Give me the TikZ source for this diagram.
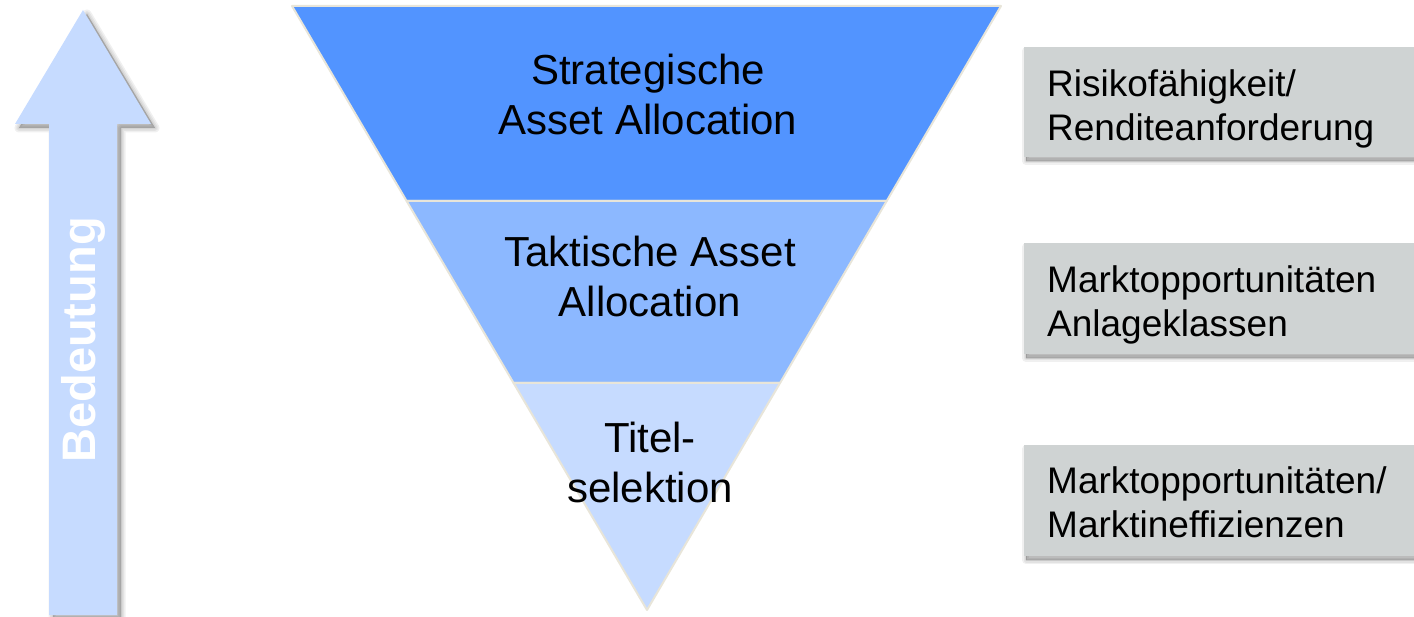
\documentclass[tikz,border=0pt]{standalone}
\usepackage{fontspec}
\setmainfont{Liberation Sans}
\usetikzlibrary{calc}
\definecolor{bandA}{RGB}{82,148,255}
\definecolor{bandB}{RGB}{140,184,255}
\definecolor{bandC}{RGB}{198,219,255}
\definecolor{edgecol}{RGB}{232,229,217}
\definecolor{boxgray}{RGB}{207,211,211}
\definecolor{arrowcol}{RGB}{198,219,255}
\tikzset{
  band/.style={draw=edgecol, line width=2pt, line join=round},
  bandtext/.style={font=\fontsize{42}{50}\selectfont, align=center, text=black, inner sep=0pt},
  sidebox/.style={fill=boxgray},
  sidetext/.style={font=\fontsize{37}{44}\selectfont, align=left, anchor=west, inner sep=0pt, text=black},
  softshadow/.style={fill=black, draw=black, opacity=0.06, line join=round},
}
\begin{document}
\begin{tikzpicture}[x=1pt,y=-1pt]
\useasboundingbox (0,0) rectangle (1414,617);
% ---------- arrow ----------
\coordinate (tip) at (83,10);
\foreach \w in {9,6,3,0.5}{
  \path[softshadow, line width=\w pt, shift={(4,4)}]
    (83,10) -- (151,124) -- (117,124) -- (117,615) -- (49,615) -- (49,124) -- (15,124) -- cycle;
}
\fill[arrowcol] (tip) -- (151,124) -- (117,124) -- (117,615) -- (49,615) -- (49,124) -- (15,124) -- cycle;
\node[rotate=90, text=white, font=\fontsize{47}{50}\selectfont\bfseries, inner sep=0pt] (bed) at (83,340) {Bedeutung};
% ---------- funnel ----------
\coordinate (TL) at (292,6);
\coordinate (TR) at (1001,6);
\coordinate (AP) at (647,610);
\coordinate (L1) at ($(TL)!195/604!(AP)$);
\coordinate (R1) at ($(TR)!195/604!(AP)$);
\coordinate (L2) at ($(TL)!377/604!(AP)$);
\coordinate (R2) at ($(TR)!377/604!(AP)$);
\filldraw[band, fill=bandA] (TL) -- (TR) -- (R1) -- (L1) -- cycle;
\filldraw[band, fill=bandB] (L1) -- (R1) -- (R2) -- (L2) -- cycle;
\filldraw[band, fill=bandC] (L2) -- (R2) -- (AP) -- cycle;
\node[bandtext] (saa) at (648,94) {Strategische\\Asset Allocation};
\node[bandtext] (taa) at (650,276) {Taktische Asset\\Allocation};
\node[bandtext] (tit) at (650,462) {Titel-\\selektion};
% ---------- side boxes ----------
\foreach \t/\b in {47/157,243/354,445/556}{
  \foreach \w in {8,5,2,0.5}{
    \path[softshadow, line width=\w pt] (1026,\t+4) rectangle (1430,\b+4);
  }
  \fill[sidebox] (1024,\t) rectangle (1430,\b);
}
\node[sidetext] (s1) at (1047,109) {Risikofähigkeit/\\Renditeanforderung};
\node[sidetext] (s2) at (1047,305) {Marktopportunitäten\\Anlageklassen};
\node[sidetext] (s3) at (1047,502) {Marktopportunitäten/\\Marktineffizienzen};
\end{tikzpicture}
\end{document}
